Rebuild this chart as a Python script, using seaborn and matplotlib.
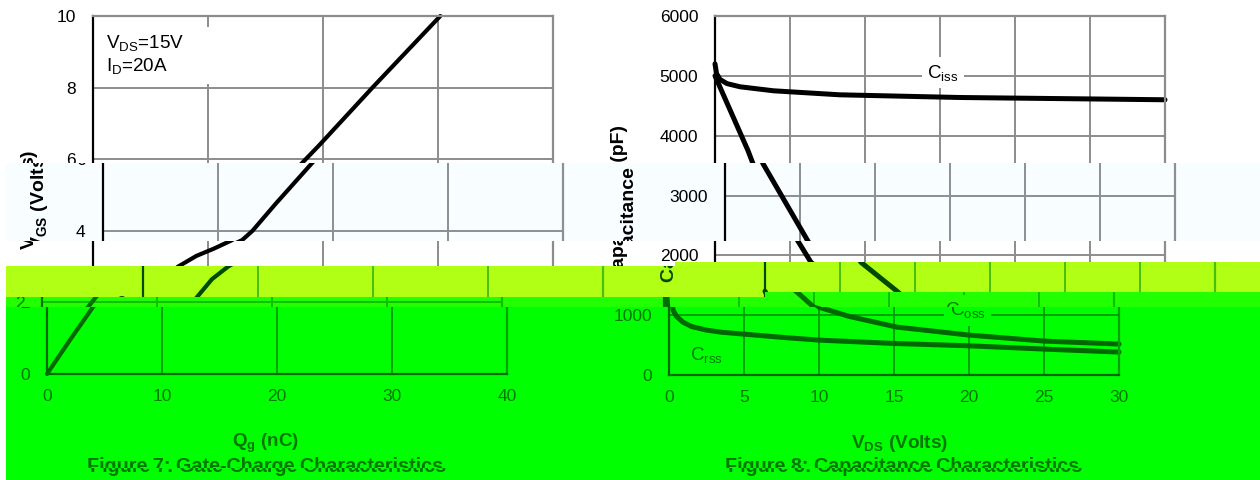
import matplotlib
matplotlib.use("Agg")
import matplotlib.pyplot as plt
from matplotlib.patches import Rectangle
from matplotlib.text import Text
from matplotlib.transforms import Bbox, IdentityTransform
import seaborn as sns

# Figure 7 - gate charge
qg = [0, 2, 4, 4.7, 6, 7.4, 9, 10.5, 12.1, 13, 15, 18.2, 19.7, 24.3, 30.2]
vgs = [0, 0.95, 1.87, 2.15, 2.65, 3.0, 3.3, 3.5, 3.74, 4.0, 4.75, 5.9, 6.4, 8, 10]
qg_ticks = [0, 10, 20, 30, 40]
vgs_ticks = [0, 2, 4, 6, 8, 10]

# Figure 8 - capacitance
ciss_v = [0, 0.1, 0.33, 0.8, 1.67, 3.9, 8.3, 16.3, 30]
ciss = [5200, 5040, 4940, 4870, 4817, 4750, 4683, 4638, 4600]
coss_v = [0, 2.2, 2.53, 5.5, 6.4, 8.8, 10, 12, 15.2, 20, 25, 30]
coss = [5000, 3750, 3533, 2250, 1883, 1400, 1133, 980, 800, 667, 567, 517]
crss_v = [0, 0.2, 0.27, 0.5, 0.93, 1.5, 2.5, 3.5, 5, 7.5, 10, 15, 20, 25, 30]
crss = [1400, 1300, 1083, 980, 883, 810, 750, 715, 683, 630, 583, 527, 488, 433, 383]
vds_ticks = [0, 5, 10, 15, 20, 25, 30]
cap_ticks = [0, 1000, 2000, 3000, 4000, 5000, 6000]

W, H = 1260, 480

# colours of each slice: background, lines, grid, text
WHITE = ("#FFFFFF", "#000000", "#8C8C8C", "#000000")
PALE = ("#F8FEFF", "#000000", "#8C9090", "#000000")
YELLOW = ("#B0FF14", "#004A00", "#48C010", "#004A00")
LIME = ("#22FF00", "#007000", "#10C000", "#008000")
GREEN = ("#00FF00", "#006800", "#00A000", "#007800")

# the picture is cut in slices, each one shifted sideways: x0, x1, y0, y1, shift, colours
slices = [
    (0, W, 0, 163, 0, WHITE),
    (6, W, 163, 240.5, 10, PALE),
    (0, 675, 240.5, 266, 0, WHITE),
    (675, W, 240.5, 261.5, 0, WHITE),
    (6, 675, 266, 297, 50, YELLOW),
    (675, 765, 261.5, 297, 50, YELLOW),
    (765, W, 261.5, 292, 50, YELLOW),
    (6, 765, 297, 307, -51, LIME),
    (765, W, 292, 307, -51, LIME),
    (6, W, 307, 468, -46, GREEN),
    (6, W, 468, H, -43, GREEN),
]

sns.set_theme(style="white")
plt.rcParams["font.family"] = ["Liberation Sans", "DejaVu Sans"]
plt.rcParams["mathtext.fontset"] = "custom"
plt.rcParams["mathtext.rm"] = "Liberation Sans"
plt.rcParams["mathtext.bf"] = "Liberation Sans:bold"
plt.rcParams["mathtext.default"] = "regular"

fig = plt.figure(figsize=(W / 100, H / 100), dpi=100, facecolor="white")
drawn = []


def make_axes(shift, left, right, top, bottom, colours, xlim, ylim, xticks, yticks, pad):
    bg, ink, grid, text = colours
    ax = fig.add_axes([(left + shift) / W, 1 - bottom / H, (right - left) / W, (bottom - top) / H])
    ax.patch.set_visible(False)
    ax.set_xlim(xlim)
    ax.set_ylim(ylim)
    ax.set_xticks(xticks)
    ax.set_yticks(yticks)
    ax.grid(True, color=grid, linewidth=1.4)
    ax.set_axisbelow(True)
    ax.tick_params(axis="both", length=0, labelsize=12.5, labelcolor=text)
    ax.tick_params(axis="x", pad=11)
    ax.tick_params(axis="y", pad=pad)
    for side in ["top", "right"]:
        ax.spines[side].set_color(grid)
        ax.spines[side].set_linewidth(1.6)
    for side in ["left", "bottom"]:
        ax.spines[side].set_color(ink)
        ax.spines[side].set_linewidth(1.6)
    return ax


def put(ax, px, py, s, shift, colour, **kw):
    ax.text(px + shift, H - py, s, transform=IdentityTransform(), color=colour, ha="center", va="center", **kw)


def clip_all(ax, box):
    for art in ax.findobj(lambda a: hasattr(a, "set_clip_box")):
        art.set_clip_box(box)
        art.set_clip_on(True)
    drawn.append((ax, box))


for x0, x1, y0, y1, shift, colours in slices:
    bg, ink, grid, text = colours
    box = Bbox([[x0, H - y1], [x1, H - y0]])
    fig.add_artist(Rectangle((x0 / W, 1 - y1 / H), (x1 - x0) / W, (y1 - y0) / H,
                             transform=fig.transFigure, facecolor=bg, edgecolor="none", zorder=-10))

    # Figure 7
    ax1 = make_axes(shift, 93, 553, 16, 374, colours, (0, 40), (0, 10), qg_ticks, vgs_ticks, 12.5)
    ax1.add_patch(Rectangle((0.6, 8.1), 10, 1.6, facecolor=bg, edgecolor="none", zorder=1.5))
    sns.lineplot(x=qg, y=vgs, ax=ax1, color=ink, linewidth=3.0, sort=False, estimator=None, legend=False)
    ax1.set_xlabel("")
    ax1.set_ylabel("")
    put(ax1, 145, 43, r"V$_{DS}$=15V", shift, text, fontsize=13.6)
    put(ax1, 137, 66, r"I$_{D}$=20A", shift, text, fontsize=13.6)
    put(ax1, 30, 200, r"V$_{\mathbf{GS}}$ (Volts)", shift, text, fontsize=14, fontweight="bold", rotation=90)
    put(ax1, 311, 443, r"Q$_{\mathbf{g}}$ (nC)", shift, text, fontsize=13.5, fontweight="bold")
    put(ax1, 311, 466, "Figure 7: Gate-Charge Characteristics", shift, text, fontsize=14.2, fontweight="bold")
    clip_all(ax1, box)

    # Figure 8
    ax2 = make_axes(shift, 715, 1165, 16, 375, colours, (0, 30), (0, 6000), vds_ticks, cap_ticks, 12)
    sns.lineplot(x=ciss_v, y=ciss, ax=ax2, color=ink, linewidth=3.6, sort=False, estimator=None, legend=False)
    sns.lineplot(x=coss_v, y=coss, ax=ax2, color=ink, linewidth=3.6, sort=False, estimator=None, legend=False)
    sns.lineplot(x=crss_v, y=crss, ax=ax2, color=ink, linewidth=3.6, sort=False, estimator=None, legend=False)
    ax2.set_xlabel("")
    ax2.set_ylabel("")
    label_box = dict(facecolor=bg, edgecolor="none", pad=4)
    ax2.text(15.2, 5050, r"C$_{iss}$", color=text, fontsize=13.5, ha="center", va="center", bbox=label_box)
    ax2.text(19.9, 1083, r"C$_{oss}$", color=text, fontsize=13.5, ha="center", va="center", bbox=label_box)
    ax2.text(2.5, 333, r"C$_{rss}$", color=text, fontsize=13.5, ha="center", va="center")
    put(ax2, 620, 203, "Capacitance (pF)", shift, text, fontsize=14, fontweight="bold", rotation=90)
    put(ax2, 946, 443, r"V$_{\mathbf{DS}}$ (Volts)", shift, text, fontsize=13.7, fontweight="bold")
    put(ax2, 948, 466, "Figure 8: Capacitance Characteristics", shift, text, fontsize=14.2, fontweight="bold")
    clip_all(ax2, box)

# texts whose copy falls outside its own slice are not needed
fig.canvas.draw()
renderer = fig.canvas.get_renderer()
for ax, box in drawn:
    for t in ax.findobj(Text):
        if t.get_text() and not t.get_window_extent(renderer).overlaps(box):
            t.set_visible(False)

fig.savefig("out.png", dpi=100)
plt.close(fig)
